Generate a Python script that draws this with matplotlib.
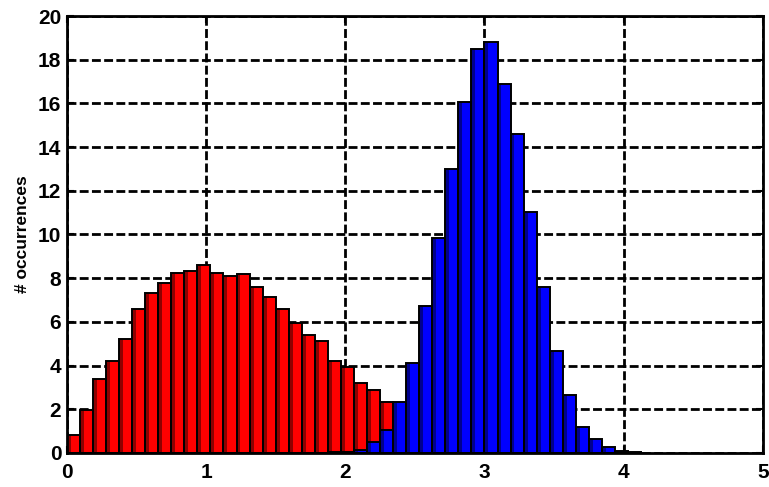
import matplotlib
matplotlib.use("Agg")
import matplotlib.pyplot as plt
import numpy as np

# bin width: 32 bins fit exactly between 0 and 3
bin_width = 3.0 / 32

# red histogram, bins 0..24
red_counts = [0.83, 1.97, 3.38, 4.19, 5.22, 6.61, 7.33, 7.78, 8.24, 8.32,
              8.62, 8.23, 8.10, 8.17, 7.59, 7.12, 6.61, 5.95, 5.41, 5.14,
              4.19, 3.93, 3.22, 2.86, 2.33]
# blue histogram, bins 20..43
blue_first_bin = 20
blue_counts = [0.03, 0.06, 0.15, 0.52, 1.06, 2.35, 4.11, 6.74, 9.85, 13.0,
               16.07, 18.49, 18.82, 16.88, 14.62, 11.04, 7.6, 4.65, 2.66, 1.18,
               0.64, 0.26, 0.10, 0.05]

plt.rcParams['font.family'] = ['Liberation Sans', 'DejaVu Sans']
plt.rcParams['font.weight'] = 'bold'

fig = plt.figure(figsize=(7.69, 4.87), dpi=100)
ax = fig.add_axes([0.087, 0.07, 0.905, 0.897])


def draw_hist(first_bin, counts, face, dark):
    left = (first_bin + np.arange(len(counts))) * bin_width
    ax.bar(left, counts, width=bin_width, align='edge', color=face,
           linewidth=0, zorder=2)
    ax.bar(left, counts, width=bin_width * 0.3, align='edge', color=dark,
           linewidth=0, zorder=2)
    ax.bar(left, counts, width=bin_width, align='edge', fill=False,
           edgecolor='black', linewidth=1.4, zorder=2)


draw_hist(0, red_counts, '#ff0000', '#8f0000')
draw_hist(blue_first_bin, blue_counts, '#0000ff', '#00008f')

ax.set_xlim(0, 5)
ax.set_ylim(0, 20)
ax.set_xticks(range(0, 6))
ax.set_yticks(range(0, 21, 2))
ax.set_axisbelow(True)
ax.grid(True, color='black', linestyle=(0, (3.2, 1.2)), linewidth=2)
ax.tick_params(direction='in', length=5, width=1.5, labelsize=15,
               top=True, right=True)
ax.tick_params(axis='x', pad=7)
ax.tick_params(axis='y', pad=4)
for lab in ax.get_xticklabels() + ax.get_yticklabels():
    lab.set_fontweight('bold')
for sp in ax.spines.values():
    sp.set_linewidth(2)

ax.set_ylabel('# occurrences', fontsize=12.5, fontweight='bold', labelpad=5.5)

fig.savefig('out.png', dpi=100)
